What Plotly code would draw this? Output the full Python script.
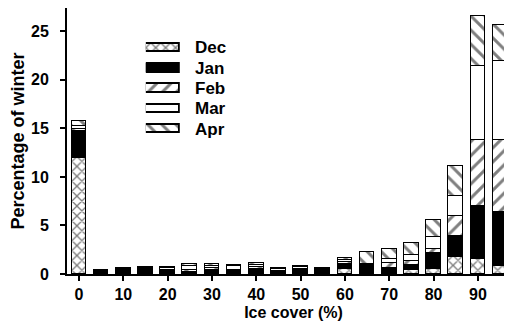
import plotly.graph_objects as go

ice_cover = [0, 5, 10, 15, 20, 25, 30, 35, 40, 45, 50, 55, 60, 65, 70, 75, 80, 85, 90, 95]
dec = [11.9, None, None, None, None, None, None, None, None, None, None, None, 0.5, None, None, 0.4, 0.5, 1.75, 1.5, 0.8]
jan = [2.8, 0.2, 0.5, 0.4, 0.3, 0.2, 0.4, 0.3, 0.5, 0.3, 0.4, 0.6, 0.5, 0.85, 0.6, 0.5, 1.65, 2.15, 5.5, 5.6]
feb = [0.2, None, 0.1, 0.1, 0.1, 0.2, 0.2, 0.1, 0.2, None, 0.1, None, 0.2, 0.1, 0.5, 0.4, 0.4, 2.05, 6.8, 7.4]
mar = [0.3, 0.1, None, 0.1, 0.2, 0.4, 0.2, 0.4, 0.2, 0.2, 0.2, None, 0.2, 0.1, 0.45, 0.65, 1.25, 2.05, 7.6, 8.1]
apr = [0.6, 0.1, None, 0.1, 0.1, 0.2, 0.2, 0.1, 0.2, 0.1, 0.1, None, 0.25, 1.2, 1.05, 1.25, 1.75, 3.1, 5.2, 3.7]

months = ["Dec", "Jan", "Feb", "Mar", "Apr"]
x_ticks = [0, 10, 20, 30, 40, 50, 60, 70, 80, 90]
y_ticks = [0, 5, 10, 15, 20, 25]

styles = {
    "Dec": dict(color="white", pattern=dict(shape="x", fgcolor="black", bgcolor="white", size=7, solidity=0.35)),
    "Jan": dict(color="black"),
    "Feb": dict(color="white", pattern=dict(shape="/", fgcolor="black", bgcolor="white", size=10, solidity=0.3)),
    "Mar": dict(color="white"),
    "Apr": dict(color="white", pattern=dict(shape="\\", fgcolor="black", bgcolor="white", size=10, solidity=0.3)),
}
series = {"Dec": dec, "Jan": jan, "Feb": feb, "Mar": mar, "Apr": apr}

FONT = "Liberation Sans, Arial, sans-serif"
fig = go.Figure()
for m in months:
    st = styles[m]
    fig.add_trace(go.Bar(
        x=ice_cover, y=series[m], name=m, width=3.3,
        marker=dict(color=st["color"], pattern=st.get("pattern"), line=dict(color="black", width=1.4)),
        showlegend=False,
    ))

# custom legend swatches on an overlay axis
for i, m in enumerate(months):
    st = styles[m]
    fig.add_trace(go.Bar(
        x=[1], y=[i], orientation="h", width=0.42, xaxis="x2", yaxis="y2",
        marker=dict(color=st["color"], pattern=st.get("pattern"), line=dict(color="black", width=1.4)),
        showlegend=False, hoverinfo="skip",
    ))
    fig.add_annotation(x=0.278, xref="paper", y=i, yref="y2", text="<b>%s</b>" % m,
                       showarrow=False, xanchor="left", yanchor="middle",
                       font=dict(family=FONT, size=17, color="black"))

fig.update_layout(
    width=512, height=326,
    margin=dict(l=59, r=0, t=0, b=60, autoexpand=False),
    barmode="stack", bargap=0,
    plot_bgcolor="white", paper_bgcolor="white",
    font=dict(family=FONT, size=16, color="black"),
    xaxis=dict(range=[-2.7, 99.5], tickvals=x_ticks, ticktext=["<b>%d</b>" % v for v in x_ticks],
               showline=True, linecolor="black", linewidth=2, ticks="outside", tickwidth=2,
               ticklen=5, tickcolor="black", showgrid=False, zeroline=False, automargin=False,
               tickfont=dict(size=16),
               title=dict(text="<b>Ice cover (%)</b>", font=dict(size=16), standoff=5)),
    yaxis=dict(range=[0, 27.4], tickvals=y_ticks, ticktext=["<b>%d</b>" % v for v in y_ticks],
               showline=True, linecolor="black", linewidth=2, ticks="outside", tickwidth=2,
               ticklen=5, tickcolor="black", showgrid=False, zeroline=False, automargin=False,
               tickfont=dict(size=16), ticklabelstandoff=8,
               title=dict(text="<b>Percentage of winter</b>", font=dict(size=18), standoff=8)),
    xaxis2=dict(domain=[0.174, 0.249], anchor="y2", range=[0, 1], visible=False, fixedrange=True),
    yaxis2=dict(domain=[0.507, 0.888], anchor="x2", range=[4.5, -0.5], visible=False, fixedrange=True),
)

fig.write_html("out.html")
